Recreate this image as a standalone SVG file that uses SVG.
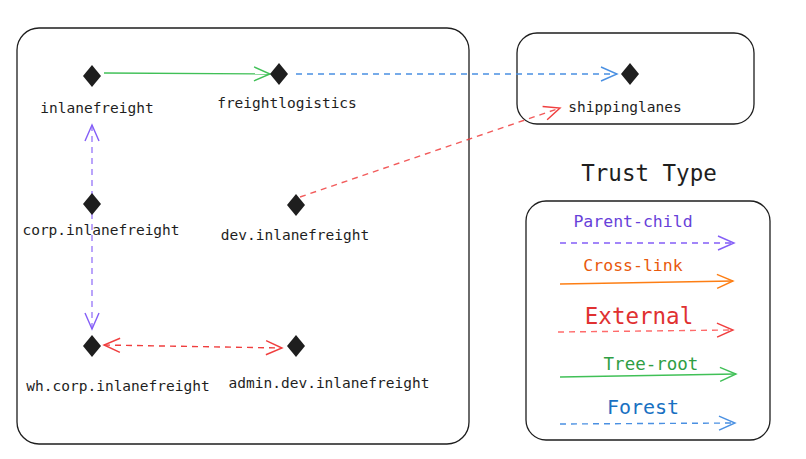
<svg xmlns="http://www.w3.org/2000/svg" width="806" height="459" viewBox="0 0 806 459">
<style>
.box{fill:#fff;stroke:#1e1e1e;stroke-width:1.3}
.dia{fill:#1e1e1e}
.lbl{font-family:"DejaVu Sans Mono","Liberation Mono",monospace;font-size:14.5px;fill:#1e1e1e;text-anchor:middle}
.leg{font-family:"DejaVu Sans Mono","Liberation Mono",monospace;text-anchor:middle}
.e{fill:none;stroke-width:1.4}
.d{stroke-dasharray:6 5}
</style>
<defs>
<marker id="ag" viewBox="0 0 20 20" refX="18" refY="10" markerWidth="20" markerHeight="20" markerUnits="userSpaceOnUse" orient="auto-start-reverse"><path d="M2 3 L18 10 L2 17" fill="none" stroke="#40c057" stroke-width="1.4"/></marker>
<marker id="ab" viewBox="0 0 20 20" refX="18" refY="10" markerWidth="20" markerHeight="20" markerUnits="userSpaceOnUse" orient="auto-start-reverse"><path d="M2 3 L18 10 L2 17" fill="none" stroke="#4a90e2" stroke-width="1.4"/></marker>
<marker id="ar" viewBox="0 0 20 20" refX="18" refY="10" markerWidth="20" markerHeight="20" markerUnits="userSpaceOnUse" orient="auto-start-reverse"><path d="M2 3 L18 10 L2 17" fill="none" stroke="#f03e3e" stroke-width="1.4"/></marker>
<marker id="ap" viewBox="0 0 20 20" refX="18" refY="10" markerWidth="20" markerHeight="20" markerUnits="userSpaceOnUse" orient="auto-start-reverse"><path d="M2 3 L18 10 L2 17" fill="none" stroke="#845ef7" stroke-width="1.4"/></marker>
<marker id="ao" viewBox="0 0 20 20" refX="18" refY="10" markerWidth="20" markerHeight="20" markerUnits="userSpaceOnUse" orient="auto-start-reverse"><path d="M2 3 L18 10 L2 17" fill="none" stroke="#fd7e14" stroke-width="1.4"/></marker>
</defs>
<rect width="806" height="459" fill="#fff"/>
<g id="containers">
<rect class="box" x="17" y="28" width="452" height="416" rx="22"/>
<rect class="box" x="517" y="33" width="237" height="91" rx="20"/>
<rect class="box" x="526" y="201" width="244" height="239" rx="20"/>
</g>
<g id="connectors">
<line class="e" x1="104" y1="73" x2="270" y2="74" stroke="#40c057" stroke-width="2" marker-end="url(#ag)"/>
<line class="e d" x1="296" y1="74" x2="617" y2="74" stroke="#4a90e2" marker-end="url(#ab)"/>
<line class="e d" x1="300" y1="197" x2="560" y2="108" stroke="#f03e3e" stroke-opacity="0.85" marker-end="url(#ar)"/>
<line class="e d" x1="92" y1="125" x2="92" y2="329" stroke="#845ef7" stroke-opacity="0.8" marker-start="url(#ap)" marker-end="url(#ap)"/>
<line class="e d" x1="104" y1="345" x2="282" y2="348" stroke="#f03e3e" stroke-width="1.8" marker-start="url(#ar)" marker-end="url(#ar)"/>
</g>
<g id="n-inlanefreight"><polygon class="dia" points="92,65 101,76 92,87 83,76"/><text class="lbl" x="97" y="113">inlanefreight</text></g>
<g id="n-freightlogistics"><polygon class="dia" points="279,63 288,74 279,85 270,74"/><text class="lbl" x="287" y="108">freightlogistics</text></g>
<g id="n-shippinglanes"><polygon class="dia" points="630,63 639,74 630,85 621,74"/><text class="lbl" x="625" y="112">shippinglanes</text></g>
<g id="n-corp"><polygon class="dia" points="92,193 101,204 92,215 83,204"/><text class="lbl" x="101" y="235">corp.inlanefreight</text></g>
<g id="n-dev"><polygon class="dia" points="296,194 305,205 296,216 287,205"/><text class="lbl" x="295" y="240">dev.inlanefreight</text></g>
<g id="n-wh"><polygon class="dia" points="92,335 101,346 92,357 83,346"/><text class="lbl" x="118" y="391">wh.corp.inlanefreight</text></g>
<g id="n-admin"><polygon class="dia" points="296,335 305,346 296,357 287,346"/><text class="lbl" x="329" y="388">admin.dev.inlanefreight</text></g>
<g id="legend">
<text class="leg" x="649" y="181" font-size="22.5" fill="#1e1e1e">Trust Type</text>
<text class="leg" x="633" y="227" font-size="16.5" fill="#6741d9">Parent-child</text>
<line class="e d" x1="560" y1="243" x2="734" y2="243" stroke="#845ef7" marker-end="url(#ap)"/>
<text class="leg" x="633" y="271" font-size="16.5" fill="#e8590c">Cross-link</text>
<line class="e" x1="560" y1="284" x2="733" y2="281" stroke="#fd7e14" stroke-width="2" marker-end="url(#ao)"/>
<text class="leg" x="639" y="324" font-size="22.5" fill="#e03131">External</text>
<line class="e d" x1="558" y1="332" x2="733" y2="330" stroke="#ff6b6b" marker-end="url(#ar)"/>
<text class="leg" x="651" y="370" font-size="17.5" fill="#2f9e44">Tree-root</text>
<line class="e" x1="560" y1="377" x2="736" y2="374" stroke="#40c057" stroke-width="1.8" marker-end="url(#ag)"/>
<text class="leg" x="643" y="414" font-size="20" fill="#1971c2">Forest</text>
<line class="e d" x1="560" y1="424" x2="735" y2="423" stroke="#4a90e2" marker-end="url(#ab)"/>
</g>
</svg>
